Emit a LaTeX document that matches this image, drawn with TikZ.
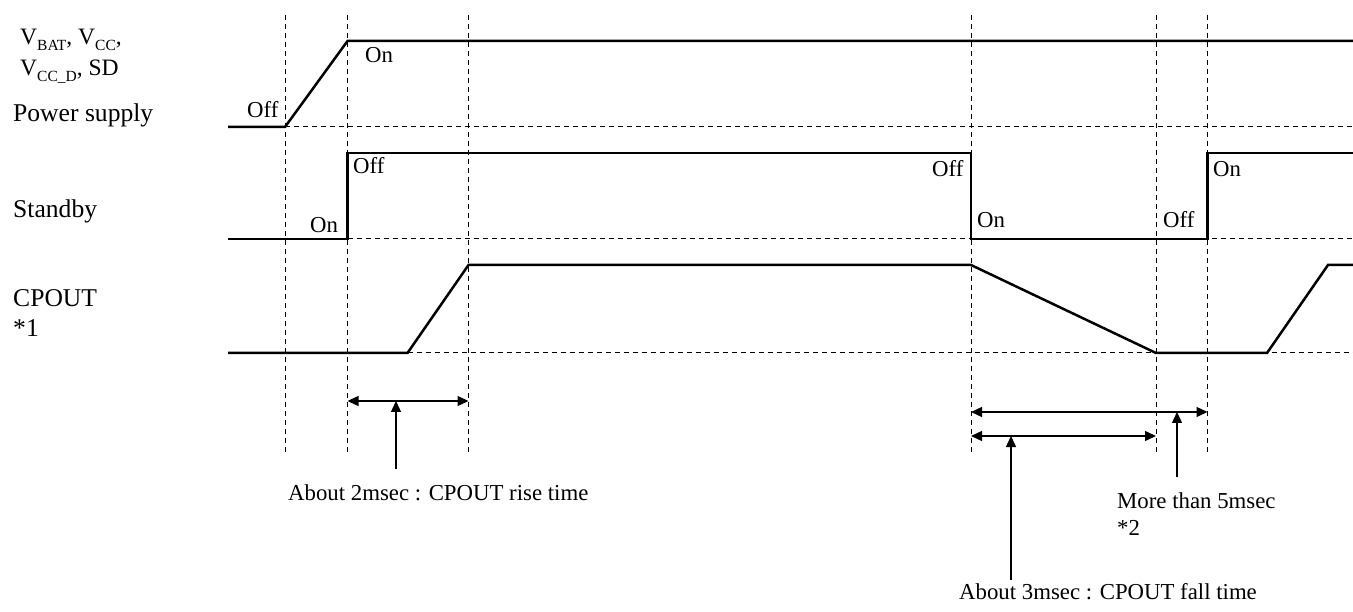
\documentclass[tikz,border=0pt]{standalone}
\usepackage{fontspec}
\setmainfont{Liberation Serif}
\usetikzlibrary{arrows.meta}
\newcommand\sigsub[1]{\raisebox{-0.22em}{\fontsize{15.5}{16}\selectfont #1}}
\begin{document}
\begin{tikzpicture}[x=1pt,y=-1pt,
  sig/.style={line width=2.5pt, line join=miter},
  guide/.style={line width=1pt, dash pattern=on 5pt off 4pt},
  dim/.style={line width=1.4pt, {Triangle[length=11pt,width=10pt]}-{Triangle[length=11pt,width=10pt]}},
  lead/.style={line width=1.4pt, -{Triangle[length=11pt,width=10pt]}},
  lbl/.style={inner sep=0pt, anchor=base west, font=\fontsize{25.6}{30}\selectfont},
  lblv/.style={inner sep=0pt, anchor=base west, font=\fontsize{23.5}{28}\selectfont},
  ann/.style={inner sep=0pt, anchor=base west, font=\fontsize{22.8}{27}\selectfont}]
\useasboundingbox (0,0) rectangle (1353,612);
% guides
\foreach \x in {285,347.5,468.5,971,1156,1207.5} \draw[guide] (\x,15) -- (\x,452);
\draw[guide] (285,127) -- (1353,127);
\draw[guide] (347.5,239) -- (1353,239);
\draw[guide] (407.5,353) -- (1353,353);
% signals
\draw[sig] (228,127) -- (285,127) -- (347.5,41) -- (1353,41);
\draw[sig] (228,239) -- (347.5,239) -- (347.5,153) -- (971,153) -- (971,239) -- (1207.5,239) -- (1207.5,153) -- (1353,153);
\draw[sig] (228,353) -- (407.5,353) -- (468.5,265) -- (971,265) -- (1156,353) -- (1267,353) -- (1328,265) -- (1353,265);
% dimension arrows
\coordinate (r1) at (347.5,401); \coordinate (r2) at (468.5,401);
\coordinate (rt) at (396,401); \coordinate (rb) at (396,469);
\draw[dim] (r1) -- (r2);
\draw[lead] (rb) -- (rt);
\coordinate (f1) at (971,412); \coordinate (f2) at (1207.5,412);
\coordinate (g1) at (971,436); \coordinate (g2) at (1156,436);
\draw[dim] (f1) -- (f2);
\draw[dim] (g1) -- (g2);
\coordinate (ft) at (1011,436); \coordinate (fb) at (1011,580);
\coordinate (mt) at (1177,412); \coordinate (mb) at (1177,477);
\draw[lead] (fb) -- (ft);
\draw[lead] (mb) -- (mt);
% left labels
\node[lblv] (v1) at (20,45) {V\sigsub{BAT}, V\sigsub{CC},};
\node[lblv] (v2) at (20,76) {V\sigsub{CC\_D}, SD};
\node[lbl] (ps) at (13,122) {Power supply};
\node[lbl] (sb) at (13,218) {Standby};
\node[lbl] (cp) at (13,307) {CPOUT};
\node[lbl] (cp1) at (13,337) {*1};
% state labels
\node[ann] (s1) at (247,118) {Off};
\node[ann] (s2) at (365,63) {On};
\node[ann] (s3) at (353,174) {Off};
\node[ann] (s4) at (310,233) {On};
\node[ann] (s5) at (932,177) {Off};
\node[ann] (s6) at (977,228) {On};
\node[ann] (s7) at (1163,228) {Off};
\node[ann] (s8) at (1213,177) {On};
% annotations
\node[ann] (a1) at (288,500) {About 2msec : CPOUT rise time};
\node[ann] (a2) at (1117,508) {More than 5msec};
\node[ann] (a3) at (1117,535) {*2};
\node[ann] (a4) at (959,599) {About 3msec : CPOUT fall time};
\end{tikzpicture}
\end{document}
